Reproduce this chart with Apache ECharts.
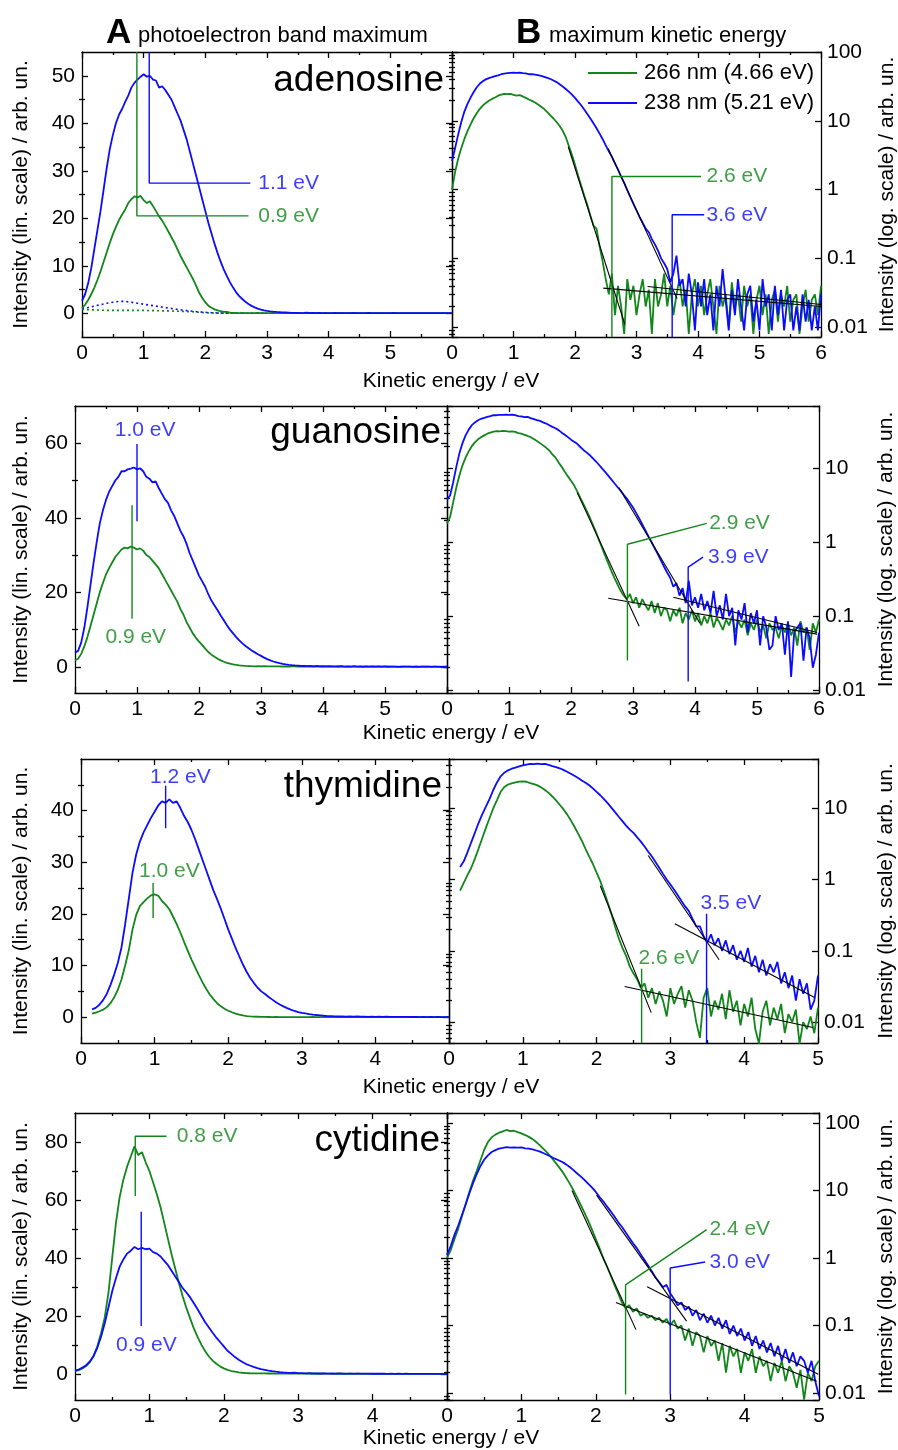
<!DOCTYPE html>
<html><head><meta charset="utf-8">
<script src="https://cdn.jsdelivr.net/npm/echarts@6.0.0/dist/echarts.min.js"></script>
<style>html,body{margin:0;padding:0;background:#fff}#c{width:898px;height:1450px}</style>
</head><body><div id="c"></div>
<script>
// ---------------- DATA ----------------
const STEP = 0.05;               // eV sampling of the spectra
const seriesNames = ['266 nm (4.66 eV)', '238 nm (5.21 eV)'];
const compounds = ['adenosine', 'guanosine', 'thymidine', 'cytidine'];

// adenosine, 0 .. 6 eV
const adenosineStart = 0;
const adenosine266 = [
 1.0,1.8,2.8,4.0,5.4,7.0,8.8,10.8,12.8,14.8,
 16.6,18.2,19.6,20.8,21.8,23.2,24.0,24.6,24.4,24.7,
 23.8,23.2,23.6,22.6,21.5,20.4,19.5,18.4,17.2,16.0,
 14.8,13.4,12.0,10.8,9.6,8.4,7.2,5.8,4.3,3.2,
 2.3,1.6,1.15,0.82,0.6,0.42,0.3,0.27,0.15,0.09,
 0.05,0.03,0.06,0.015,0.04,0.02,0.008,0.05,0.025,0.04,
 0.015,0.03,0.05,0.02,0.035,0.008,0.05,0.02,0.03,0.06,
 0.02,0.04,0.015,0.03,0.05,0.02,0.035,0.008,0.03,0.05,
 0.02,0.04,0.015,0.03,0.05,0.02,0.008,0.04,0.02,0.03,
 0.01,0.045,0.02,0.03,0.012,0.04,0.02,0.03,0.008,0.025,
 0.04,0.015,0.03,0.008,0.025,0.035,0.012,0.03,0.02,0.04,
 0.012,0.025,0.03,0.008,0.02,0.035,0.012,0.025,0.03,0.015,
 0.04];
const adenosine238 = [
 2.6,4.0,6.3,9.5,13.5,17.5,21.5,26,30.5,34.5,
 37.5,40,41.8,43,44.5,45.8,47.5,48.5,49.2,49.8,
 50.3,49.8,50.0,49.2,49.0,47.5,47.8,47.0,46.0,45.0,
 43.5,42.0,40.5,38.5,36.5,34.0,31.5,29.0,26.5,24.0,
 21.5,19.0,16.8,14.6,12.6,10.8,9.2,7.8,6.5,5.4,
 4.4,3.6,3.0,2.4,1.95,1.55,1.25,0.98,0.78,0.62,
 0.5,0.40,0.33,0.27,0.24,0.19,0.16,0.13,0.10,0.085,
 0.07,0.045,0.06,0.11,0.04,0.05,0.02,0.06,0.03,0.009,
 0.045,0.02,0.05,0.015,0.03,0.009,0.04,0.02,0.07,0.025,
 0.009,0.035,0.015,0.05,0.02,0.009,0.03,0.04,0.012,0.025,
 0.009,0.05,0.02,0.03,0.009,0.04,0.015,0.035,0.009,0.025,
 0.03,0.009,0.02,0.009,0.03,0.012,0.025,0.009,0.02,0.009,
 0.03];
// dotted curves in panel A (0 .. 3 eV, 0.1 eV step)
const RES_STEP = 0.1;
const adenosine266Residual = [0.8,0.75,0.7,0.65,0.6,0.6,0.6,0.6,0.6,0.6,0.6,0.55,0.55,0.5,0.5,0.45,0.4,0.35,0.3,0.2,0.12,0.06,0.03,0.01,0,0,0,0,0,0,0];
const adenosine238Residual = [1.0,1.2,1.5,1.8,2.1,2.3,2.5,2.5,2.3,2.1,1.9,1.7,1.5,1.3,1.1,0.9,0.7,0.55,0.4,0.3,0.2,0.12,0.06,0.03,0.01,0,0,0,0,0,0];

// guanosine, 0 .. 6 eV
const guanosineStart = 0;
const guanosine266 = [
 1.8,2.2,3.5,5.5,8.0,11,14,17,20,22.5,
 24.8,26.5,28,29.5,30.5,31.5,32,31.8,32.3,32,
 31.5,31.8,31.2,30,29.5,28.5,27.5,26.5,25,23.5,
 22,20.5,19,17.5,15.5,14,12,10.5,9,7.8,
 6.8,5.9,4.9,4.0,3.3,2.7,2.2,1.75,1.38,1.08,
 0.85,0.66,0.52,0.41,0.33,0.27,0.22,0.19,0.17,0.2,
 0.15,0.18,0.13,0.17,0.14,0.12,0.16,0.11,0.15,0.1,
 0.13,0.12,0.085,0.12,0.1,0.13,0.08,0.11,0.09,0.12,
 0.085,0.11,0.075,0.1,0.08,0.11,0.07,0.095,0.08,0.065,
 0.09,0.075,0.1,0.06,0.085,0.07,0.09,0.055,0.08,0.065,
 0.09,0.06,0.075,0.05,0.08,0.065,0.07,0.05,0.075,0.06,
 0.08,0.055,0.07,0.04,0.085,0.06,0.07,0.035,0.08,0.06,
 0.09];
const guanosine238 = [
 3.8,4.3,6.5,10.5,16,22,28,33.5,38.5,42,
 44.8,47,48.5,50,51,52.5,52.5,53,53.2,53.5,
 53,53.3,52.5,51,50.5,49.5,49.8,48,46.5,45,
 44,42,40.5,38.5,36.5,35,33,30.5,28.5,26.5,
 24.5,23,21.5,19.5,17.8,16.5,15.2,13.8,12.5,11.2,
 10,9,8,7.1,6.3,5.6,5.0,4.4,3.9,3.4,
 2.95,2.5,2.1,1.75,1.45,1.2,1.0,0.83,0.69,0.57,
 0.47,0.39,0.33,0.25,0.28,0.19,0.24,0.15,0.30,0.14,
 0.18,0.13,0.2,0.12,0.16,0.11,0.22,0.1,0.14,0.09,
 0.2,0.1,0.13,0.04,0.12,0.09,0.15,0.06,0.11,0.08,
 0.12,0.04,0.1,0.07,0.035,0.04,0.1,0.065,0.08,0.03,
 0.085,0.015,0.06,0.07,0.08,0.025,0.07,0.05,0.02,0.03,
 0.06];

// thymidine, 0.15 .. 5 eV
const thymidineStart = 0.15;
const thymidine266 = [
 0.7,0.9,1.15,1.45,1.95,2.7,3.8,5.3,7.3,10,
 13,17,19.8,21.5,22.3,23,23.6,23.8,23.5,22.5,
 21.8,20.9,19.5,18,16.4,14.6,12.9,11.2,9.7,8.2,
 6.8,5.5,4.4,3.5,2.7,2.1,1.65,1.25,0.95,0.68,
 0.48,0.33,0.22,0.15,0.11,0.085,0.06,0.048,0.04,0.03,
 0.035,0.022,0.03,0.018,0.027,0.02,0.012,0.03,0.018,0.025,
 0.032,0.016,0.028,0.02,0.01,0.006,0.022,0.03,0.012,0.02,
 0.015,0.025,0.011,0.028,0.014,0.02,0.009,0.018,0.012,0.022,
 0.008,0.005,0.014,0.02,0.009,0.016,0.011,0.018,0.007,0.013,
 0.01,0.015,0.005,0.01,0.008,0.012,0.007,0.016];
const thymidine238 = [
 1.5,1.8,2.4,3.3,4.5,6.2,8.2,10.5,13.5,18,
 23,28,31.5,34,35.8,37.2,38.6,39.8,41,41.8,
 41.5,42.2,41.5,41.8,40.5,39,37.8,36.3,34.5,32.5,
 30.5,28.5,26.5,24.5,22.8,21,19,17,15.2,13.4,
 11.8,10.2,8.8,7.6,6.6,5.7,5.0,4.5,3.9,3.4,
 2.9,2.45,2.1,1.75,1.45,1.2,1.0,0.85,0.72,0.6,
 0.5,0.42,0.36,0.28,0.22,0.22,0.16,0.13,0.17,0.12,
 0.15,0.1,0.14,0.09,0.12,0.075,0.1,0.07,0.11,0.06,
 0.085,0.05,0.075,0.045,0.065,0.05,0.07,0.035,0.05,0.03,
 0.045,0.02,0.04,0.025,0.035,0.015,0.02,0.045];

// cytidine, 0 .. 5 eV
const cytidineStart = 0;
const cytidine266 = [
 1.0,1.3,1.9,2.7,4.1,6.2,9.5,14,19.5,28,
 40,52,61,67,71.5,75,78.5,75.5,76.5,73,
 70,66,62,57.5,52,46.5,41,36,31,26.5,
 22.5,19,15.5,12.6,10,7.8,6.0,4.6,3.5,2.6,
 1.9,1.4,1.0,0.75,0.55,0.4,0.3,0.22,0.18,0.2,
 0.16,0.18,0.14,0.15,0.13,0.14,0.12,0.13,0.11,0.125,
 0.1,0.12,0.09,0.1,0.06,0.09,0.05,0.08,0.07,0.04,
 0.07,0.05,0.06,0.03,0.055,0.02,0.05,0.035,0.045,0.02,
 0.04,0.03,0.045,0.02,0.035,0.025,0.03,0.015,0.028,0.02,
 0.03,0.015,0.025,0.02,0.012,0.022,0.008,0.02,0.015,0.025,
 0.03];
const cytidine238 = [
 1.1,1.5,2.2,3.0,4.3,6.2,9.0,12.8,17.5,23,
 28.5,33,37,39.5,41.5,42.5,43.8,43,43.5,43,
 43.2,42,41.5,40.5,39,37.5,35.5,33.5,31.5,29.5,
 28,26.3,24.3,22.2,20,17.8,16,14.2,12.5,11,
 9.5,8.0,6.9,5.8,4.9,4.1,3.4,2.9,2.4,2.0,
 1.65,1.4,1.15,0.95,0.78,0.64,0.52,0.44,0.37,0.4,
 0.3,0.25,0.2,0.22,0.17,0.19,0.14,0.17,0.12,0.15,
 0.11,0.14,0.1,0.13,0.09,0.12,0.075,0.1,0.07,0.09,
 0.06,0.08,0.05,0.07,0.045,0.06,0.04,0.055,0.035,0.05,
 0.03,0.045,0.028,0.04,0.025,0.035,0.03,0.02,0.03,0.015,
 0.009];

// band maxima (panel A): marker paths [eV, intensity]
const adenosineBand266 = [[0.89,55],[0.89,20.5],[2.7,20.5]];
const adenosineBand238 = [[1.09,55],[1.09,27.4],[2.73,27.4]];
const guanosineBand266 = [[0.92,12.9],[0.92,43.4]];
const guanosineBand238 = [[1.0,39.1],[1.0,59.8]];
const thymidineBand266 = [[0.98,19.2],[0.98,26]];
const thymidineBand238 = [[1.15,36.6],[1.15,44.8]];
const cytidineBand266 = [[0.81,61.4],[0.81,82],[1.23,82]];
const cytidineBand238 = [[0.89,16.5],[0.89,55.9]];
// labels: [eV, intensity, text, anchor]
const adenosineBandLabels = [[2.85,20.5,'0.9 eV','left'],[2.85,27.4,'1.1 eV','left']];
const guanosineBandLabels = [[0.98,8,'0.9 eV','center'],[1.13,63.5,'1.0 eV','center']];
const thymidineBandLabels = [[1.2,28.3,'1.0 eV','center'],[1.35,46.5,'1.2 eV','center']];
const cytidineBandLabels = [[1.36,82,'0.8 eV','left'],[0.96,10,'0.9 eV','center']];

// maximum kinetic energy (panel B): marker paths
const adenosineEdge266 = [[2.6,0.0072],[2.6,1.55],[4.05,1.55]];
const adenosineEdge238 = [[3.58,0.0072],[3.58,0.43],[4.1,0.43]];
const guanosineEdge266 = [[2.91,0.025],[2.91,0.94],[4.19,1.8]];
const guanosineEdge238 = [[3.89,0.013],[3.89,0.46],[4.13,0.63]];
const thymidineEdge266 = [[2.61,0.0051],[2.61,0.056]];
const thymidineEdge238 = [[3.49,0.0051],[3.49,0.33]];
const cytidineEdge266 = [[2.4,0.0095],[2.4,0.40],[3.49,2.63]];
const cytidineEdge238 = [[3.0,0.0095],[3.0,0.71],[3.47,0.87]];
const adenosineEdgeLabels = [[4.13,1.55,'2.6 eV','left'],[4.13,0.43,'3.6 eV','left']];
const guanosineEdgeLabels = [[4.22,1.8,'2.9 eV','left'],[4.2,0.63,'3.9 eV','left']];
const thymidineEdgeLabels = [[2.56,0.08,'2.6 eV','left'],[3.4,0.47,'3.5 eV','left']];
const cytidineEdgeLabels = [[3.52,2.63,'2.4 eV','left'],[3.52,0.87,'3.0 eV','left']];
// linear fits (black) [steep, background]
const adenosineFit266 = [[[1.89,4.2],[2.81,0.011]],[[2.46,0.037],[6.0,0.02]]];
const adenosineFit238 = [[[2.54,3.95],[3.66,0.026]],[[3.18,0.039],[6.0,0.0214]]];
const guanosineFit266 = [[[2.1,4.7],[3.1,0.073]],[[2.6,0.175],[5.97,0.057]]];
const guanosineFit238 = [[[2.77,5.5],[4.08,0.08]],[[3.65,0.18],[5.97,0.06]]];
const thymidineFit266 = [[[2.05,0.82],[2.74,0.0136]],[[2.38,0.0316],[4.93,0.0084]]];
const thymidineFit238 = [[[2.70,2.17],[3.66,0.075]],[[3.06,0.24],[4.96,0.022]]];
const cytidineFit266 = [[[1.68,10],[2.54,0.087]],[[2.27,0.22],[4.97,0.015]]];
const cytidineFit238 = [[[2.01,8.5],[3.22,0.116]],[[2.69,0.376],[4.99,0.019]]];

// axes: energy max, linear range, linear ticks, log range
const energyMax = [6, 6, 5, 5];
const linRange = [[-5,55],[-7,70],[-5,50],[-9,90]];
const linMajor = [[0,10,20,30,40,50],[0,20,40,60],[0,10,20,30,40],[0,20,40,60,80]];
const linMinor = [[5,15,25,35,45],[10,30,50],[5,15,25,35,45],[10,30,50,70]];
const logRange = [[0.0072,100],[0.0091,70],[0.0051,49],[0.0079,140]];
const logMinorMultipliers = [2,3,4,5,6,7,8,9];

// ---------------- LAYOUT / STYLE ----------------
const GREEN = '#12861a', BLUE = '#0b0bff';
const FONT = '"Liberation Sans", Arial, Helvetica, sans-serif';
const AX = {color:'#000', width:1.3};
const LW = 1.8;
const panels = [ // [left, top, width, height] for panel A and B per row
 {A:[82,52,370,285],  B:[452,52,369,285], nameGapA:50, nameGapB:56},
 {A:[75,406,372,287], B:[447,406,372,287], nameGapA:43, nameGapB:57},
 {A:[81,759,368,284], B:[449,759,369,284], nameGapA:49, nameGapB:58},
 {A:[75,1113,372,287],B:[447,1113,372,287], nameGapA:43, nameGapB:57}
];

function energies(start, n, step) {
  const out = [];
  for (let i = 0; i < n; i++) out.push(Math.round((start + i * step) * 100) / 100);
  return out;
}
function pairs(start, ys, step) {
  const xs = energies(start, ys.length, step);
  return ys.map((y, i) => [xs[i], y]);
}
function logMinorTicks(min, max) {
  const out = [];
  for (let e = -3; e <= 2; e++) for (const m of logMinorMultipliers) {
    const v = m * Math.pow(10, e);
    if (v > min * 1.0001 && v < max * 0.9999) out.push(v);
  }
  return out;
}
function logLabel(v) {
  const l = Math.log10(v), r = Math.round(l);
  if (Math.abs(l - r) > 1e-3) return '';
  return r >= 0 ? String(Math.round(Math.pow(10, r))) : Math.pow(10, r).toFixed(-r);
}

const option = {animation:false, backgroundColor:'#fff', grid:[], xAxis:[], yAxis:[], series:[], graphic:[]};
const tickLabel = {color:'#000', fontSize:21, fontFamily:FONT};
const nameStyle = {color:'#000', fontSize:21, fontFamily:FONT};

function addGrid(r) {
  option.grid.push({left:r[0], top:r[1], width:r[2], height:r[3], containLabel:false, outerBoundsMode:'none', show:false});
  return option.grid.length - 1;
}
function addX(g, xmax, hideMax) {
  const base = {gridIndex:g, type:'value', min:0, max:xmax, interval:1, splitLine:{show:false}, minorSplitLine:{show:false},
    axisLine:{show:true, onZero:false, lineStyle:AX}, axisTick:{show:true, inside:true, length:6, lineStyle:AX},
    minorTick:{show:true, splitNumber:2, length:3, lineStyle:AX}};
  option.xAxis.push(Object.assign({}, base, {position:'bottom',
    axisLabel:Object.assign({show:true, margin:6, showMaxLabel:!hideMax, showMinLabel:true, hideOverlap:false}, tickLabel)}));
  const bi = option.xAxis.length - 1;
  option.xAxis.push(Object.assign({}, base, {position:'top', axisLabel:{show:false}}));
  return bi;
}
function addLinY(g, k, gap) {
  const [min, max] = linRange[k];
  const base = {gridIndex:g, type:'value', min, max, splitLine:{show:false}, axisLine:{show:true, onZero:false, lineStyle:AX}};
  option.yAxis.push(Object.assign({}, base, {position:'left',
    axisTick:{show:true, inside:true, length:6, lineStyle:AX, customValues:linMajor[k]},
    axisLabel:Object.assign({show:true, margin:7, customValues:linMajor[k]}, tickLabel),
    name:'Intensity (lin. scale) / arb. un.', nameLocation:'middle', nameGap:gap, nameRotate:90, nameTextStyle:nameStyle, nameMoveOverlap:false}));
  const li = option.yAxis.length - 1;
  option.yAxis.push(Object.assign({}, base, {position:'right', axisLabel:{show:false},
    axisTick:{show:true, inside:true, length:6, lineStyle:AX, customValues:linMajor[k]}}));
  const minorBase = {gridIndex:g, type:'value', min, max, splitLine:{show:false}, axisLine:{show:false}, axisLabel:{show:false},
    axisTick:{show:true, inside:true, length:3, lineStyle:AX, customValues:linMinor[k]}};
  option.yAxis.push(Object.assign({}, minorBase, {position:'left'}));
  option.yAxis.push(Object.assign({}, minorBase, {position:'right'}));
  return li;
}
function addLogY(g, k, gap) {
  const [min, max] = logRange[k];
  const base = {gridIndex:g, type:'log', logBase:10, min, max, splitLine:{show:false},
    axisLine:{show:true, onZero:false, lineStyle:AX}, axisTick:{show:true, inside:true, length:6, lineStyle:AX}};
  option.yAxis.push(Object.assign({}, base, {position:'right',
    axisLabel:Object.assign({show:true, margin:6, formatter:logLabel, showMinLabel:true, showMaxLabel:true, hideOverlap:false}, tickLabel),
    name:'Intensity (log. scale) / arb. un.', nameLocation:'middle', nameGap:gap, nameRotate:90, nameTextStyle:nameStyle, nameMoveOverlap:false}));
  const ri = option.yAxis.length - 1;
  option.yAxis.push(Object.assign({}, base, {position:'left', axisLabel:{show:false}}));
  const minor = logMinorTicks(min, max).map(Math.log10);
  const minorBase = {gridIndex:g, type:'value', min:Math.log10(min), max:Math.log10(max), splitLine:{show:false},
    axisLine:{show:false}, axisLabel:{show:false}, axisTick:{show:true, inside:true, length:3, lineStyle:AX, customValues:minor}};
  option.yAxis.push(Object.assign({}, minorBase, {position:'left'}));
  option.yAxis.push(Object.assign({}, minorBase, {position:'right'}));
  return ri;
}
function line(xi, yi, data, color, extra) {
  option.series.push(Object.assign({type:'line', xAxisIndex:xi, yAxisIndex:yi, data, symbol:'none', showSymbol:false,
    silent:true, clip:true, lineStyle:{color, width:LW}, itemStyle:{color}, z:2}, extra || {}));
}
function labels(xi, yi, items, colors) {
  option.series.push({type:'scatter', xAxisIndex:xi, yAxisIndex:yi, symbolSize:1, silent:true, z:6,
    itemStyle:{color:'rgba(0,0,0,0)'},
    data: items.map((it, i) => ({value:[it[0], it[1]], label:{show:true, formatter:it[2], color:colors[i],
      fontSize:21, fontFamily:FONT, position: it[3] === 'left' ? 'right' : 'inside', distance:0}}))});
}

const rows = [
 {start:adenosineStart, g:adenosine266, b:adenosine238, band:[adenosineBand266, adenosineBand238], bandLab:adenosineBandLabels,
  edge:[adenosineEdge266, adenosineEdge238], edgeLab:adenosineEdgeLabels, fit:[adenosineFit266, adenosineFit238]},
 {start:guanosineStart, g:guanosine266, b:guanosine238, band:[guanosineBand266, guanosineBand238], bandLab:guanosineBandLabels,
  edge:[guanosineEdge266, guanosineEdge238], edgeLab:guanosineEdgeLabels, fit:[guanosineFit266, guanosineFit238]},
 {start:thymidineStart, g:thymidine266, b:thymidine238, band:[thymidineBand266, thymidineBand238], bandLab:thymidineBandLabels,
  edge:[thymidineEdge266, thymidineEdge238], edgeLab:thymidineEdgeLabels, fit:[thymidineFit266, thymidineFit238]},
 {start:cytidineStart, g:cytidine266, b:cytidine238, band:[cytidineBand266, cytidineBand238], bandLab:cytidineBandLabels,
  edge:[cytidineEdge266, cytidineEdge238], edgeLab:cytidineEdgeLabels, fit:[cytidineFit266, cytidineFit238]}
];

rows.forEach((row, k) => {
  const P = panels[k];
  const gA = addGrid(P.A), gB = addGrid(P.B);
  const xA = addX(gA, energyMax[k], true), xB = addX(gB, energyMax[k], false);
  const yA = addLinY(gA, k, P.nameGapA), yB = addLogY(gB, k, P.nameGapB);
  const gData = pairs(row.start, row.g, STEP), bData = pairs(row.start, row.b, STEP);
  // panel A (linear)
  if (k === 0) {
    line(xA, yA, pairs(0, adenosine266Residual, RES_STEP), GREEN, {lineStyle:{color:GREEN, width:1.6, type:[2,3]}});
    line(xA, yA, pairs(0, adenosine238Residual, RES_STEP), BLUE, {lineStyle:{color:BLUE, width:1.6, type:[2,3]}});
  }
  line(xA, yA, gData, GREEN);
  line(xA, yA, bData, BLUE);
  line(xA, yA, row.band[0], GREEN, {lineStyle:{color:GREEN, width:1.4}, z:4});
  line(xA, yA, row.band[1], BLUE, {lineStyle:{color:BLUE, width:1.4}, z:4});
  labels(xA, yA, row.bandLab, [GREEN, BLUE]);
  // panel B (log)
  line(xB, yB, gData, GREEN, k === 0 ? {name:seriesNames[0]} : {});
  line(xB, yB, bData, BLUE, k === 0 ? {name:seriesNames[1]} : {});
  row.fit.forEach(f => f.forEach(seg => line(xB, yB, seg, '#000', {lineStyle:{color:'#000', width:1.1}, z:3})));
  line(xB, yB, row.edge[0], GREEN, {lineStyle:{color:GREEN, width:1.4}, z:4});
  line(xB, yB, row.edge[1], BLUE, {lineStyle:{color:BLUE, width:1.4}, z:4});
  labels(xB, yB, row.edgeLab, [GREEN, BLUE]);
});

option.legend = {data:seriesNames, orient:'vertical', left:588, top:62, padding:0, icon:'rect', itemWidth:49, itemHeight:2,
  itemGap:8, textStyle:{color:'#000', fontSize:22, fontFamily:FONT, padding:[0,0,0,2]}, selectedMode:false};

function txt(x, y, text, size, align, bold) {
  option.graphic.push({type:'text', x, y, silent:true, style:{text, fill:'#000',
    font:(bold ? 'bold ' : '') + size + 'px ' + FONT, align, verticalAlign:'middle', textAlign:align, textVerticalAlign:'middle'}});
}
txt(106, 33, 'A', 35, 'left', true);
txt(138, 36, 'photoelectron band maximum', 22, 'left', false);
txt(516, 33, 'B', 35, 'left', true);
txt(549, 36, 'maximum kinetic energy', 22, 'left', false);
const namePos = [[444,81],[441,433],[442,787],[440,1141]];
compounds.forEach((c, i) => txt(namePos[i][0], namePos[i][1], c, 37, 'right', false));
[381, 733, 1087, 1438].forEach(y => txt(451, y, 'Kinetic energy / eV', 21, 'center', false));

const chart = echarts.init(document.getElementById('c'), null, {renderer:'canvas'});
chart.setOption(option);
</script></body></html>
